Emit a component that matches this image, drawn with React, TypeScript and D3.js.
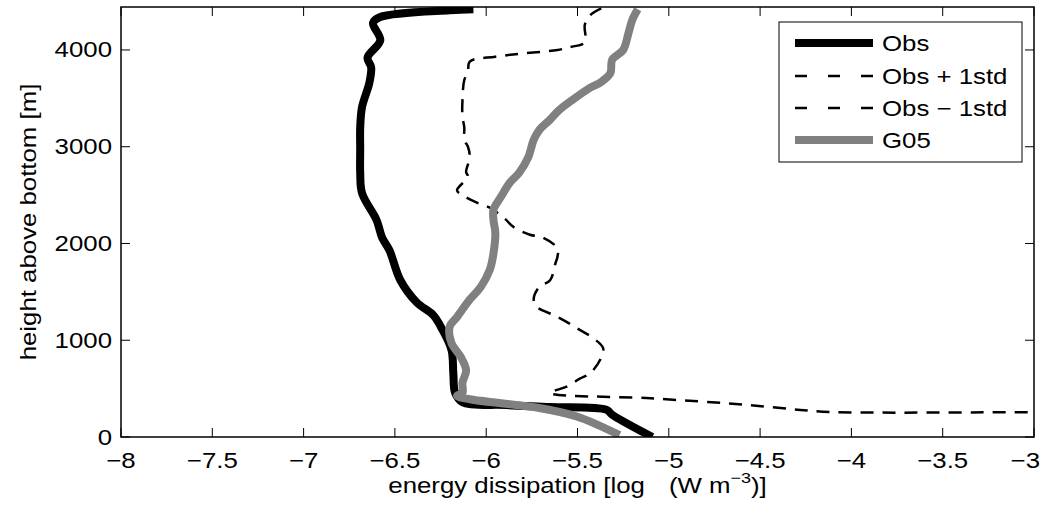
import React from "react";
import * as d3 from "d3";

// tick values
const xTicks = [-8, -7.5, -7, -6.5, -6, -5.5, -5, -4.5, -4, -3.5, -3];
const yTicks = [0, 1000, 2000, 3000, 4000];

// Obs profile (log10 dissipation vs height above bottom)
const obsLog = [-6.07, -6.2, -6.58, -6.62, -6.58, -6.65, -6.63, -6.64, -6.68, -6.69, -6.69, -6.69, -6.68, -6.6, -6.57, -6.53, -6.47, -6.38, -6.29, -6.24, -6.19, -6.18, -6.17, -6.13, -5.89, -5.65, -5.34, -5.31, -5.09];
const obsHeight = [4420, 4410, 4340, 4280, 4100, 3920, 3820, 3660, 3410, 3200, 2970, 2730, 2520, 2240, 2060, 1930, 1620, 1390, 1260, 1110, 900, 660, 455, 360, 330, 310, 280, 230, 0];

// Obs + 1std
const plusLog = [-5.37, -5.43, -5.46, -5.46, -5.54, -5.61, -5.82, -5.95, -6.09, -6.1, -6.12, -6.13, -6.13, -6.12, -6.12, -6.1, -6.09, -6.11, -6.1, -6.16, -6.13, -6.06, -5.98, -5.9, -5.85, -5.76, -5.69, -5.61, -5.61, -5.62, -5.65, -5.71, -5.74, -5.72, -5.63, -5.56, -5.49, -5.42, -5.36, -5.37, -5.43, -5.49, -5.56, -5.65, -5.1, -4.56, -4.28, -4.1, -3.0, -2.5];
const plusHeight = [4430, 4360, 4260, 4080, 4030, 4000, 3960, 3930, 3880, 3770, 3690, 3480, 3310, 3200, 3070, 3000, 2890, 2740, 2690, 2550, 2500, 2430, 2370, 2260, 2170, 2090, 2060, 1950, 1860, 1800, 1620, 1550, 1420, 1340, 1260, 1190, 1110, 1030, 920, 820, 660, 600, 520, 455, 400, 330, 280, 258, 256, 255];

// Obs - 1std (negative values -> no log, nothing drawn)
const minusLog: number[] = [];
const minusHeight: number[] = [];

// G05 parameterisation
const g05Log = [-5.17, -5.2, -5.22, -5.25, -5.31, -5.32, -5.37, -5.43, -5.53, -5.6, -5.65, -5.71, -5.74, -5.77, -5.82, -5.87, -5.92, -5.96, -5.96, -5.95, -5.96, -5.98, -6.03, -6.09, -6.16, -6.2, -6.19, -6.14, -6.11, -6.13, -6.13, -6.16, -6.09, -5.71, -5.5, -5.27];
const g05Height = [4420, 4310, 4180, 4000, 3900, 3760, 3670, 3610, 3480, 3380, 3280, 3170, 3070, 2890, 2730, 2630, 2480, 2350, 2240, 2110, 1900, 1730, 1550, 1420, 1240, 1140, 970, 830, 690, 560, 455, 425, 390, 300, 210, 20];

const series = [
  { name: "Obs", xs: obsLog, ys: obsHeight, color: "#000", width: 8, dash: null },
  { name: "Obs + 1std", xs: plusLog, ys: plusHeight, color: "#000", width: 2.5, dash: "13,9" },
  { name: "Obs \u2212 1std", xs: minusLog, ys: minusHeight, color: "#000", width: 2.5, dash: "13,9" },
  { name: "G05", xs: g05Log, ys: g05Height, color: "#808080", width: 8, dash: null },
];

const font = "'Liberation Sans', Arial, Helvetica, sans-serif";
const fs = 21.5;
const stretch = 1.2; // text in the figure is wide

function addText(g, tx, ty, str, anchor, rot = 0) {
  return g.append("text")
    .attr("transform", `translate(${tx},${ty})${rot ? ` rotate(${rot})` : ""} scale(${stretch},1)`)
    .attr("text-anchor", anchor)
    .text(str);
}

function drawChart(svgRef) {
  const W = 1043, H = 508;
  const left = 121, right = 1034, top = 7, bottom = 437;
  const svg = d3.select(svgRef.current);
  svg.selectAll("*").remove();
  svg.attr("width", W).attr("height", H);

  svg.append("rect").attr("width", W).attr("height", H).attr("fill", "#fff");

  const x = d3.scaleLinear().domain([-8, -3]).range([left, right]);
  const y = d3.scaleLinear().domain([0, 4444]).range([bottom, top]);

  svg.append("clipPath").attr("id", "plotclip")
    .append("rect").attr("x", left).attr("y", top).attr("width", right - left).attr("height", bottom - top);

  const line = d3.line<[number, number]>()
    .x(d => x(d[0]))
    .y(d => y(d[1]))
    .curve(d3.curveCatmullRom.alpha(0.5));

  const plot = svg.append("g").attr("clip-path", "url(#plotclip)");
  series.forEach(s => {
    const pts: [number, number][] = s.xs.map((v, i) => [v, s.ys[i]]);
    if (!pts.length) return;
    const p = plot.append("path")
      .datum(pts)
      .attr("fill", "none")
      .attr("stroke", s.color)
      .attr("stroke-width", s.width)
      .attr("stroke-linejoin", "round")
      .attr("d", line);
    if (s.dash) p.attr("stroke-dasharray", s.dash);
  });

  // box
  svg.append("rect")
    .attr("x", left).attr("y", top)
    .attr("width", right - left).attr("height", bottom - top)
    .attr("fill", "none").attr("stroke", "#000").attr("stroke-width", 1.5);

  const tl = 9;
  const fmt = d3.format("~g");
  const ax = svg.append("g").attr("stroke", "#000").attr("stroke-width", 1);
  xTicks.forEach(t => {
    ax.append("line").attr("x1", x(t)).attr("x2", x(t)).attr("y1", bottom).attr("y2", bottom - tl);
    ax.append("line").attr("x1", x(t)).attr("x2", x(t)).attr("y1", top).attr("y2", top + tl);
  });
  yTicks.forEach(t => {
    ax.append("line").attr("x1", left).attr("x2", left + tl).attr("y1", y(t)).attr("y2", y(t));
    ax.append("line").attr("x1", right).attr("x2", right - tl).attr("y1", y(t)).attr("y2", y(t));
  });

  const labels = svg.append("g").attr("font-family", font).attr("font-size", fs).attr("fill", "#000");
  xTicks.forEach((t, i) => {
    if (i === xTicks.length - 1) addText(labels, 1040, 468, fmt(t), "end");
    else addText(labels, x(t), 468, fmt(t), "middle");
  });
  yTicks.forEach(t => {
    addText(labels, 112, y(t) + 7.5, fmt(t), "end");
  });

  // axis titles
  addText(labels, 36, (top + bottom) / 2, "height above bottom [m]", "middle", -90);

  const xl = addText(labels, (left + right) / 2, 493, "", "middle");
  xl.append("tspan").text("energy dissipation [log");
  xl.append("tspan").attr("dx", 20).text("(W m");
  xl.append("tspan").attr("font-size", 15).attr("dy", -10).text("\u22123");
  xl.append("tspan").attr("dy", 10).text(")]");

  // legend
  const lg = svg.append("g");
  lg.append("rect").attr("x", 779).attr("y", 22).attr("width", 243).attr("height", 140)
    .attr("fill", "#fff").attr("stroke", "#000").attr("stroke-width", 1);
  const rowY = [43, 76, 108, 140];
  const lt = lg.append("g").attr("font-family", font).attr("font-size", fs);
  series.forEach((s, i) => {
    const ln = lg.append("line").attr("x1", 795).attr("x2", 873).attr("y1", rowY[i]).attr("y2", rowY[i])
      .attr("stroke", s.color).attr("stroke-width", s.width);
    if (s.dash) ln.attr("stroke-dasharray", "12,21");
    addText(lt, 882, rowY[i] + 7.5, s.name, "start");
  });
}

const App = () => {
  const svg = React.useRef(null);
  React.useEffect(() => {
    drawChart(svg);
  }, []);
  return (
    <div style={{ position: "absolute", left: 0, top: 0 }}>
      <svg ref={svg} style={{ display: "block" }} />
    </div>
  );
};

export default App;
